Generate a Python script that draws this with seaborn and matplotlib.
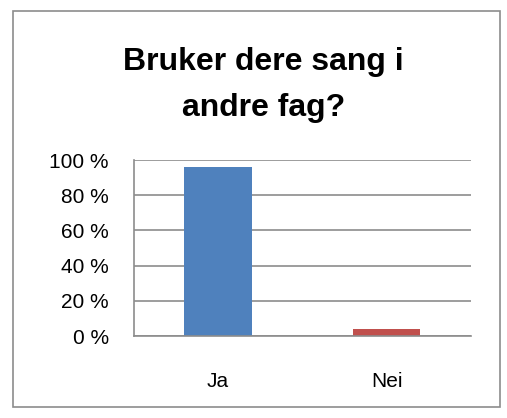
import numpy as np
import matplotlib.pyplot as plt
import matplotlib as mpl
import seaborn as sns
from matplotlib.ticker import FuncFormatter
from matplotlib.patches import Rectangle

# data
categories = ["Ja", "Nei"]
values = [96, 4]
colors = ["#4F81BD", "#C0504D"]

sns.set_style("white")
mpl.rcParams["font.family"] = ["Liberation Sans", "DejaVu Sans"]
mpl.rcParams["text.color"] = "black"
mpl.rcParams["xtick.labelcolor"] = "black"
mpl.rcParams["ytick.labelcolor"] = "black"

fig = plt.figure(figsize=(5.07, 4.18), dpi=100)
ax = fig.add_axes([0.264, 0.196, 0.665, 0.421])

sns.barplot(x=categories, y=values, hue=categories, palette=colors,
            width=0.4, legend=False, ax=ax, saturation=1, linewidth=0)

ax.set_ylim(0, 100)
ax.set_xlim(-0.5, 1.5)
ax.set_yticks(range(0, 101, 20))
ax.yaxis.set_major_formatter(FuncFormatter(lambda v, p: f"{int(v)} %"))
ax.yaxis.grid(True, color="#8c8c8c", linewidth=1.2)
ax.set_axisbelow(True)

# category ticks at boundaries, labels centred below
ax.set_xticks([-0.5, 0.5, 1.5])
ax.set_xticklabels([])
ax.set_xticks([0, 1], minor=True)
ax.set_xticklabels(categories, minor=True)
ax.tick_params(axis="x", which="major", length=6, width=1.2, color="#8c8c8c", direction="out")
ax.tick_params(axis="x", which="minor", length=0, pad=26, labelsize=15)
ax.tick_params(axis="y", length=6, width=1.2, color="#8c8c8c", labelsize=15, pad=12)
ax.set_xlabel("")
ax.set_ylabel("")

for s in ["top", "right"]:
    ax.spines[s].set_visible(False)
for s in ["left", "bottom"]:
    ax.spines[s].set_color("#8c8c8c")
    ax.spines[s].set_linewidth(1.2)

fig.text(0.52, 0.797, "Bruker dere sang i\nandre fag?", ha="center", va="center",
         fontsize=23, fontweight="bold", linespacing=1.72)

fig.patches.append(Rectangle((13 / 507, 11 / 418), 487 / 507, 396 / 418,
                             transform=fig.transFigure, fill=False,
                             edgecolor="#8c8c8c", linewidth=1.2))

fig.savefig("out.png", dpi=100)
